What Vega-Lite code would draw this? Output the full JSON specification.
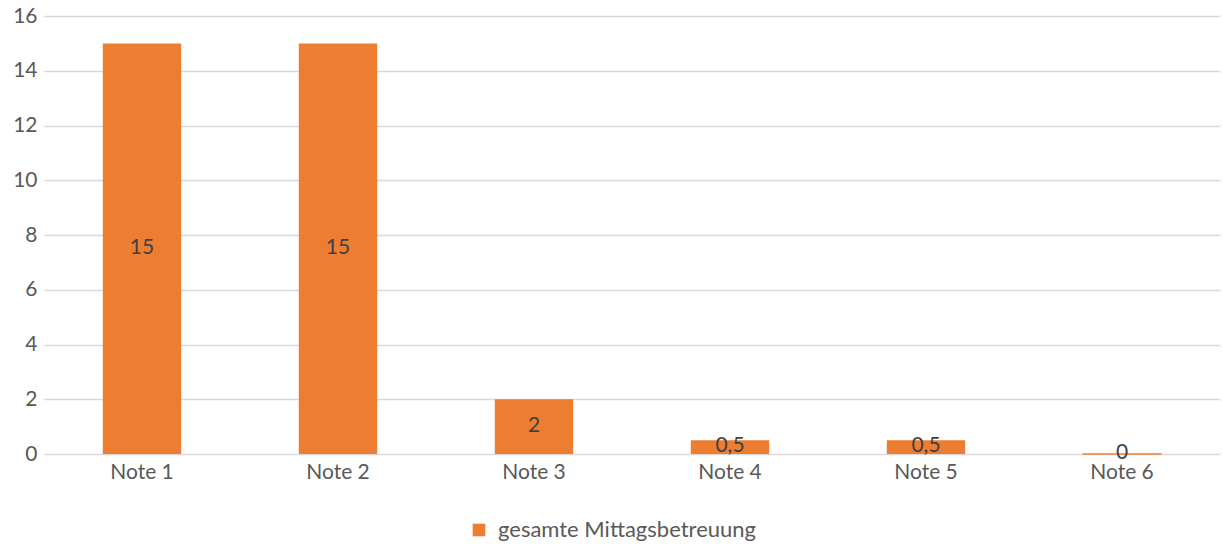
{
  "$schema": "https://vega.github.io/schema/vega-lite/v6.json",
  "autosize": "none",
  "width": 1176,
  "height": 438,
  "padding": {"left": 44, "top": 16, "right": 3, "bottom": 90},
  "background": "white",
  "config": {
    "view": {"stroke": null},
    "font": "Lato",
    "locale": {"number": {"decimal": ",", "thousands": ".", "grouping": [3], "currency": ["", " €"]}}
  },
  "data": {
    "values": [
      {"note": "Note 1", "value": 15, "series": "gesamte Mittagsbetreuung"},
      {"note": "Note 2", "value": 15, "series": "gesamte Mittagsbetreuung"},
      {"note": "Note 3", "value": 2, "series": "gesamte Mittagsbetreuung"},
      {"note": "Note 4", "value": 0.5, "series": "gesamte Mittagsbetreuung"},
      {"note": "Note 5", "value": 0.5, "series": "gesamte Mittagsbetreuung"},
      {"note": "Note 6", "value": 0, "series": "gesamte Mittagsbetreuung"}
    ]
  },
  "encoding": {
    "x": {
      "field": "note", "type": "nominal", "sort": null,
      "scale": {"paddingInner": 0.6, "paddingOuter": 0.3},
      "axis": {"title": null, "labelAngle": 0, "labelFontSize": 21, "labelColor": "#595959", "ticks": false, "domain": false, "labelPadding": 7, "grid": false}
    }
  },
  "layer": [
    {
      "mark": {"type": "bar", "color": "#ED7D31"},
      "encoding": {
        "y": {
          "field": "value", "type": "quantitative",
          "scale": {"domain": [0, 16], "nice": false},
          "axis": {"title": null, "values": [0, 2, 4, 6, 8, 10, 12, 14, 16], "labelFontSize": 21, "labelColor": "#595959", "ticks": false, "domain": false, "labelPadding": 7, "gridColor": "#D9D9D9", "gridWidth": 1.5}
        },
        "color": {
          "field": "series", "type": "nominal",
          "scale": {"range": ["#ED7D31"]},
          "legend": {"title": null, "orient": "none", "legendX": 424, "legendY": 503, "direction": "horizontal", "symbolType": "square", "symbolSize": 160, "symbolStrokeWidth": 0, "symbolOpacity": 1, "labelFontSize": 22, "labelColor": "#595959", "labelLimit": 0, "labelOffset": 8}
        }
      }
    },
    {
      "mark": {"type": "tick", "color": "#ED7D31", "thickness": 2, "size": 79, "orient": "horizontal"},
      "transform": [{"filter": "datum.value == 0"}],
      "encoding": {"y": {"field": "value", "type": "quantitative", "scale": {"domain": [0, 16], "nice": false}, "axis": null}}
    },
    {
      "mark": {"type": "text", "fontSize": 21, "color": "#404040", "baseline": "middle", "dy": -1},
      "encoding": {
        "y": {"field": "value", "type": "quantitative", "scale": {"domain": [0, 32], "nice": false}, "axis": null},
        "text": {"field": "value", "type": "quantitative", "format": "~g"}
      }
    }
  ],
  "resolve": {"scale": {"y": "independent"}}
}
